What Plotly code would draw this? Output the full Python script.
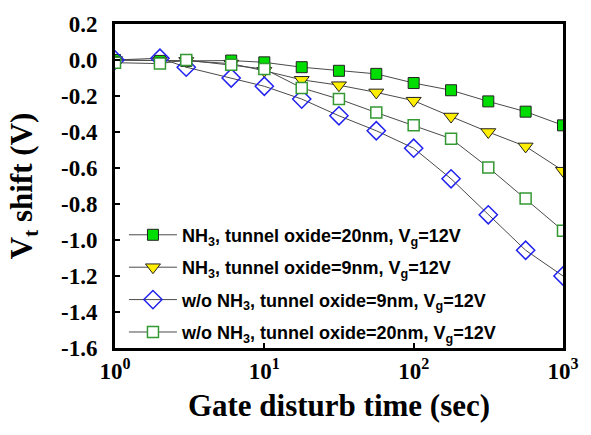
import plotly.graph_objects as go

# Data
time_s = [1, 2, 3, 6, 10, 17.8, 31.6, 56.2, 100, 178, 316, 562, 1000]
nh3_20nm = [0.0, -0.005, -0.005, -0.003, -0.013, -0.04, -0.06, -0.077, -0.128, -0.168, -0.23, -0.287, -0.363]
nh3_9nm = [0.0, -0.005, -0.005, -0.02, -0.06, -0.11, -0.14, -0.18, -0.226, -0.314, -0.40, -0.48, -0.615]
wo_nh3_9nm = [0.0, 0.01, -0.04, -0.10, -0.146, -0.217, -0.31, -0.393, -0.49, -0.66, -0.86, -1.057, -1.20]
wo_nh3_20nm = [-0.015, -0.02, 0.0, -0.027, -0.05, -0.155, -0.217, -0.292, -0.363, -0.437, -0.597, -0.77, -0.948]

series_names = [
    "NH<sub>3</sub>, tunnel oxide=20nm, V<sub>g</sub>=12V",
    "NH<sub>3</sub>, tunnel oxide=9nm, V<sub>g</sub>=12V",
    "w/o NH<sub>3</sub>, tunnel oxide=9nm, V<sub>g</sub>=12V",
    "w/o NH<sub>3</sub>, tunnel oxide=20nm, V<sub>g</sub>=12V",
]

x_tickvals = [1, 10, 100, 1000]
x_ticktext = ["10<sup>0</sup>", "10<sup>1</sup>", "10<sup>2</sup>", "10<sup>3</sup>"]
y_tickvals = [0.2, 0.0, -0.2, -0.4, -0.6, -0.8, -1.0, -1.2, -1.4, -1.6]
y_ticktext = ["0.2", "0.0", "-0.2", "-0.4", "-0.6", "-0.8", "-1.0", "-1.2", "-1.4", "-1.6"]

line_col = "#4a4a4a"
styles = [
    dict(symbol="square", size=11, color="#00dd00", line=dict(color="#222222", width=1)),
    dict(symbol="triangle-down", size=13, color="#ffee00", line=dict(color="#222222", width=1)),
    dict(symbol="diamond-open", size=14, color="#2222ee", line=dict(color="#2222ee", width=1.5)),
    dict(symbol="square", size=11, color="white", line=dict(color="#339933", width=1.5)),
]
values = [nh3_20nm, nh3_9nm, wo_nh3_9nm, wo_nh3_20nm]

fig = go.Figure()
for i, (name, vals, st) in enumerate(zip(series_names, values, styles)):
    fig.add_trace(go.Scatter(
        x=time_s, y=vals, name="<b>" + name + "</b>", mode="lines+markers",
        line=dict(color=line_col, width=1),
        marker=st, legendgroup=f"g{i}",
    ))

serif = "Liberation Serif, Times New Roman, serif"
sans = "Liberation Sans, Arial, sans-serif"

fig.update_layout(
    width=591, height=435,
    margin=dict(l=115, r=18, t=18, b=87),
    paper_bgcolor="white", plot_bgcolor="white",
    showlegend=True,
    legend=dict(
        x=0.02, y=-0.008, xanchor="left", yanchor="bottom",
        bgcolor="rgba(0,0,0,0)",
        font=dict(family=sans, size=18, color="black", weight="bold"),
        tracegroupgap=6,
        itemwidth=48,
    ),
    xaxis=dict(
        type="log", range=[0, 3],
        tickvals=x_tickvals, ticktext=x_ticktext,
        ticks="inside", ticklen=5, tickwidth=2, tickcolor="black",
        showline=True, linecolor="black", linewidth=3, mirror=True,
        showgrid=False, zeroline=False,
        tickfont=dict(family=serif, size=23, color="black", weight="bold"),
        title=dict(text="Gate disturb time (sec)", standoff=12,
                   font=dict(family=serif, size=31, color="black", weight="bold")),
    ),
    yaxis=dict(
        range=[-1.6, 0.2],
        tickvals=y_tickvals, ticktext=y_ticktext,
        ticks="inside", ticklen=5, tickwidth=2, tickcolor="black",
        showline=True, linecolor="black", linewidth=3, mirror=True,
        showgrid=False, zeroline=False,
        ticklabelstandoff=10,
        tickfont=dict(family=serif, size=23, color="black", weight="bold"),
        title=dict(text="V<sub>t</sub> shift (V)", standoff=20,
                   font=dict(family=serif, size=31, color="black", weight="bold")),
    ),
)

fig.write_html("out.html")
